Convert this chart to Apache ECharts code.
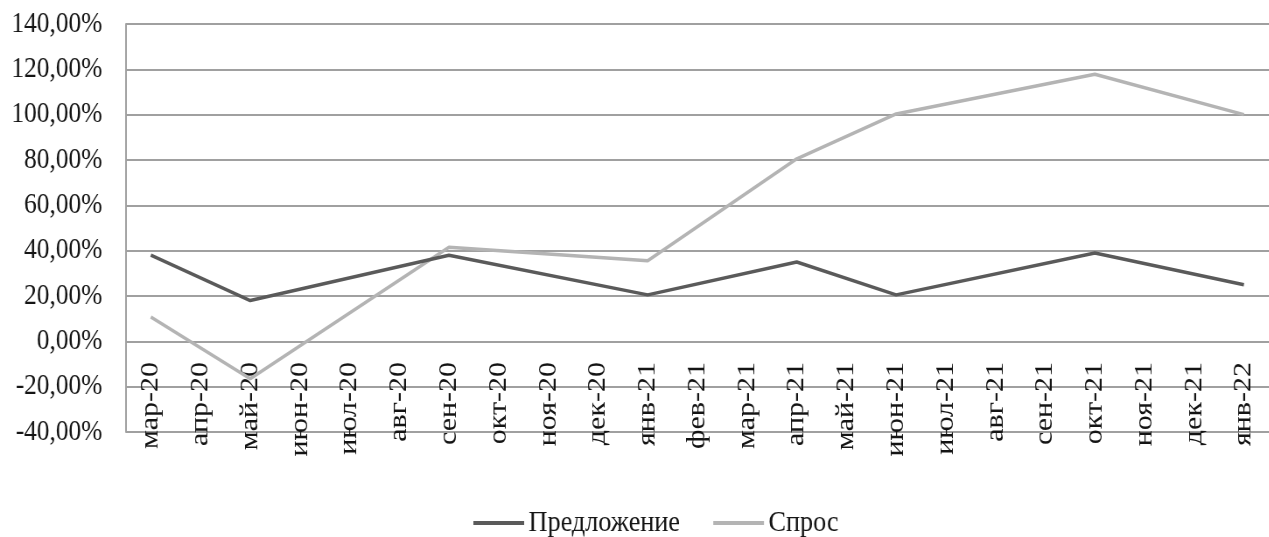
<!DOCTYPE html>
<html>
<head>
<meta charset="utf-8">
<script src="https://cdn.jsdelivr.net/npm/echarts@6/dist/echarts.min.js"></script>
<style>
  html, body { margin: 0; padding: 0; background: #fff; overflow: hidden; }
  #wrap { width: 1269px; height: 537px; overflow: hidden; }
  /* the chart is drawn wider and squeezed horizontally for a condensed serif look */
  #chart { width: 1450px; height: 537px; transform: scaleX(0.875); transform-origin: 0 0; }
</style>
</head>
<body>
<div id="wrap"><div id="chart"></div></div>
<script>
// Months on the category axis
const months = [
  'мар-20', 'апр-20', 'май-20', 'июн-20', 'июл-20', 'авг-20', 'сен-20',
  'окт-20', 'ноя-20', 'дек-20', 'янв-21', 'фев-21', 'мар-21', 'апр-21',
  'май-21', 'июн-21', 'июл-21', 'авг-21', 'сен-21', 'окт-21', 'ноя-21',
  'дек-21', 'янв-22'
];

// Year-over-year change, %; months without a reading are null and get bridged
const supply = [
  38, null, 18, null, null, null, 38,
  null, null, null, 20.5, null, null, 35,
  null, 20.5, null, null, null, 39, null,
  null, 25
];
const demand = [
  10.7, null, -16.5, null, null, null, 41.5,
  null, null, null, 35.5, null, null, 80.5,
  null, 100.3, null, null, null, 117.8, null,
  null, 100
];

const seriesNames = ['Предложение', 'Спрос'];

const FONT = '"Liberation Serif", "Times New Roman", serif';
const GRID_COLOR = '#a0a0a0';
const TEXT_COLOR = '#141414';

const chart = echarts.init(document.getElementById('chart'), null, { renderer: 'canvas' });

chart.setOption({
  animation: false,
  backgroundColor: '#ffffff',
  grid: { left: 144, right: -12, top: 24, bottom: 105, containLabel: false },
  legend: {
    data: seriesNames.map(n => ({ name: n, icon: 'rect' })),
    left: 536,
    top: 503,
    itemWidth: 58,
    itemHeight: 4,
    itemGap: 38,
    textStyle: { fontFamily: FONT, fontSize: 30, color: TEXT_COLOR }
  },
  xAxis: {
    type: 'category',
    data: months,
    boundaryGap: true,
    axisLine: { show: false },
    axisTick: { show: false },
    axisLabel: {
      interval: 0,
      rotate: 90,
      // labels hang just below the 0% line, over the negative band
      margin: -70,
      fontFamily: FONT,
      fontSize: 30,
      color: TEXT_COLOR
    },
    splitLine: { show: false }
  },
  yAxis: {
    type: 'value',
    min: -40,
    max: 140,
    interval: 20,
    axisLine: { show: true, lineStyle: { color: GRID_COLOR, width: 2 } },
    axisTick: { show: false },
    axisLabel: {
      margin: 27,
      fontFamily: FONT,
      fontSize: 29,
      color: TEXT_COLOR,
      formatter: v => v.toFixed(2).replace('.', ',') + '%'
    },
    splitLine: { lineStyle: { color: GRID_COLOR, width: 2 } }
  },
  series: [
    {
      name: seriesNames[0],
      type: 'line',
      data: supply,
      connectNulls: true,
      symbol: 'none',
      lineStyle: { color: '#5a5a5a', width: 3.5 },
      itemStyle: { color: '#5a5a5a' },
      z: 3
    },
    {
      name: seriesNames[1],
      type: 'line',
      data: demand,
      connectNulls: true,
      symbol: 'none',
      lineStyle: { color: '#b4b4b4', width: 3.5 },
      itemStyle: { color: '#b4b4b4' },
      z: 2
    }
  ]
});
</script>
</body>
</html>
